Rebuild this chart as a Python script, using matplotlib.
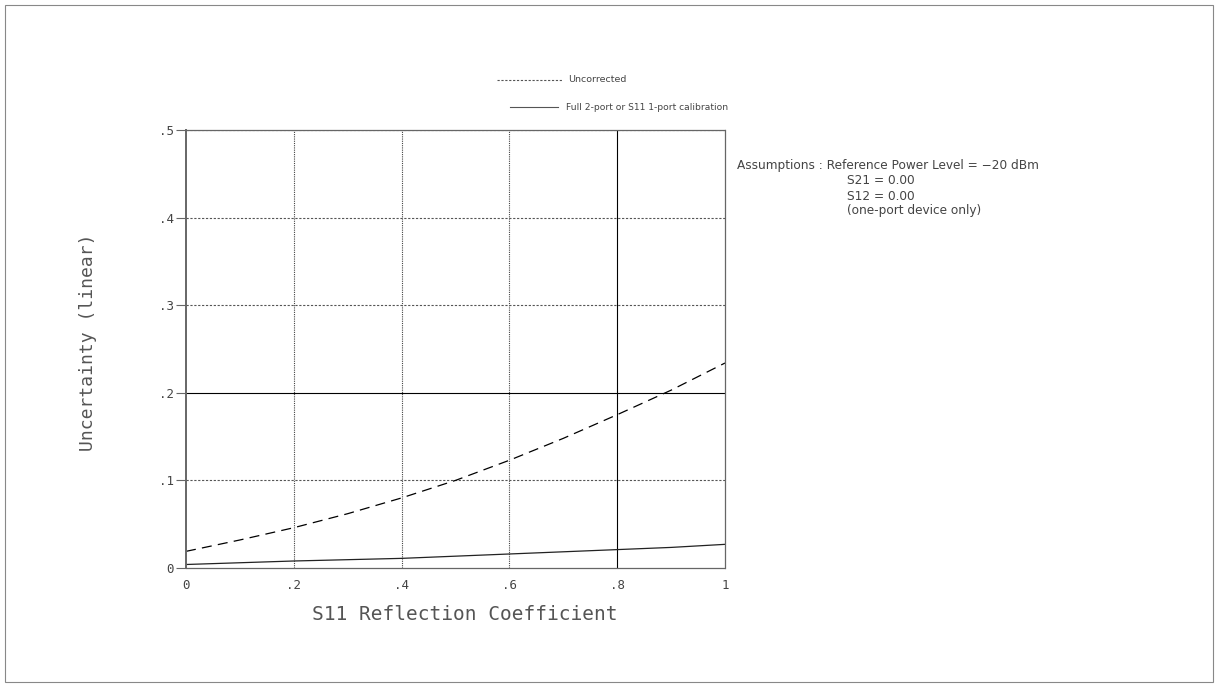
import matplotlib
matplotlib.use("Agg")
import matplotlib.pyplot as plt
from matplotlib.lines import Line2D
from matplotlib.patches import Rectangle

# Data
refl = [0.0, 0.1, 0.2, 0.3, 0.4, 0.5, 0.6, 0.7, 0.8, 0.9, 1.0]
uncorrected = [0.019, 0.032, 0.046, 0.062, 0.080, 0.100, 0.123, 0.148, 0.175, 0.203, 0.234]
calibrated = [0.004, 0.006, 0.008, 0.0095, 0.011, 0.0135, 0.016, 0.0185, 0.021, 0.0235, 0.027]
xticks = [0, 0.2, 0.4, 0.6, 0.8, 1.0]
xticklabels = ["0", ".2", ".4", ".6", ".8", "1"]
yticks = [0, 0.1, 0.2, 0.3, 0.4, 0.5]
yticklabels = ["0", ".1", ".2", ".3", ".4", ".5"]
legend_labels = ["Uncorrected", "Full 2-port or S11 1-port calibration"]
assumptions = ["Assumptions : Reference Power Level = \u221220 dBm",
               "S21 = 0.00", "S12 = 0.00", "(one-port device only)"]

W, H = 1218, 686
fig = plt.figure(figsize=(W / 100, H / 100), dpi=100)
fig.patch.set_facecolor("white")

# outer frame
fig.add_artist(Rectangle((5 / W, 1 - 682 / H), 1208 / W, 677 / H, transform=fig.transFigure,
                         fill=False, edgecolor="#888888", linewidth=0.8))

ax = fig.add_axes([186 / W, 1 - 568 / H, (725 - 186) / W, (568 - 130) / H])
ax.set_xlim(0, 1)
ax.set_ylim(0, 0.5)

# grid lines
for xv in xticks[1:-1]:
    if abs(xv - 0.8) < 1e-9:
        ax.axvline(xv, color="black", linewidth=0.8, linestyle="-")
    else:
        ax.axvline(xv, color="#444444", linewidth=0.8, linestyle=(0, (1, 1)))
for yv in yticks[1:]:
    if abs(yv - 0.2) < 1e-9:
        ax.axhline(yv, color="black", linewidth=0.8, linestyle="-")
    else:
        ax.axhline(yv, color="#555555", linewidth=0.8, linestyle=(0, (2, 1.5)))

ax.plot(refl, uncorrected, color="black", linewidth=0.9, linestyle=(0, (8, 5)))
ax.plot(refl, calibrated, color="#222222", linewidth=0.9, linestyle="-")

for side in ["top", "right", "bottom"]:
    ax.spines[side].set_linestyle((0, (1, 1)))
    ax.spines[side].set_color("#666666")
    ax.spines[side].set_linewidth(0.9)
ax.spines["left"].set_color("#666666")
ax.spines["left"].set_linewidth(1.4)

mono = "DejaVu Sans Mono"
ax.set_xticks(xticks)
ax.set_xticklabels(xticklabels, fontsize=9, family=mono, color="#444444")
ax.set_yticks(yticks)
ax.set_yticklabels(yticklabels, fontsize=9, family=mono, color="#444444")
ax.tick_params(axis="x", length=0, pad=8)
ax.tick_params(axis="y", length=7, width=0.8, color="#666666", pad=2)

ax.set_xlabel("S11 Reflection Coefficient", fontsize=14, family=mono, color="#555555")
ax.set_ylabel("Uncertainty (linear)", fontsize=13, family=mono, color="#555555")
ax.xaxis.set_label_coords((465 - 186) / (725 - 186), -(614 - 568) / (568 - 130))
ax.yaxis.set_label_coords(-(186 - 88) / (725 - 186), (568 - 342) / (568 - 130))
ax.xaxis.label.set_va("center")
ax.yaxis.label.set_va("center")

# legend drawn at top
tf = fig.transFigure
fig.add_artist(Line2D([497 / W, 562 / W], [1 - 80 / H, 1 - 80 / H], transform=tf,
                      color="#555555", linewidth=0.8, linestyle=(0, (2, 1.5))))
fig.text(568 / W, 1 - 80 / H, legend_labels[0], fontsize=6.8, color="#444444", va="center")
fig.add_artist(Line2D([510 / W, 558 / W], [1 - 107 / H, 1 - 107 / H], transform=tf,
                      color="#555555", linewidth=0.8, linestyle="-"))
fig.text(566 / W, 1 - 107 / H, legend_labels[1], fontsize=6.6, color="#444444", va="center")

# assumptions
fig.text(737 / W, 1 - 166 / H, assumptions[0], fontsize=8.7, color="#444444", va="center")
for i, s in enumerate(assumptions[1:]):
    fig.text(847 / W, 1 - (181 + 15 * i) / H, s, fontsize=8.7, color="#444444", va="center")

fig.savefig("out.png", dpi=100, facecolor="white")
